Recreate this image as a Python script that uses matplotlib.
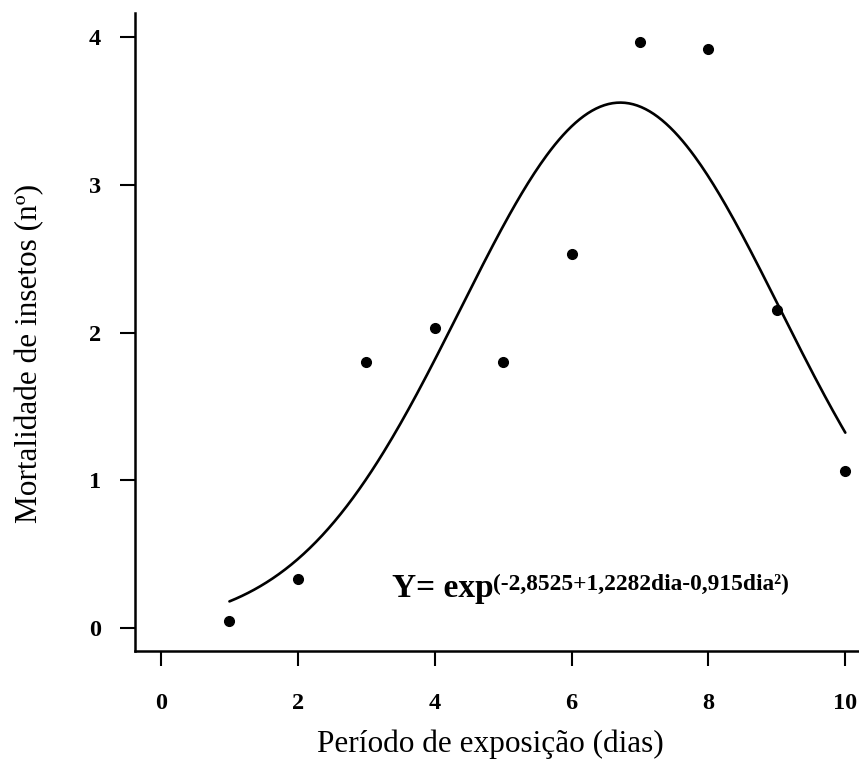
import numpy as np
import matplotlib
matplotlib.use("Agg")
import matplotlib.pyplot as plt

# Data
dias = [1, 2, 3, 4, 5, 6, 7, 8, 9, 10]
mortalidade = [0.05, 0.33, 1.80, 2.03, 1.80, 2.53, 3.97, 3.92, 2.15, 1.06]
# fitted model coefficients (curve shown in the chart)
b0, b1, b2 = -2.8525, 1.2282, -0.0915
x_ticks = [0, 2, 4, 6, 8, 10]
y_ticks = [0, 1, 2, 3, 4]

W, H = 859, 780
fig = plt.figure(figsize=(W / 100, H / 100), dpi=100)
left, right, top, bottom = 135, 859, 13, 651
ax = fig.add_axes([left / W, (H - bottom) / H, (right - left) / W, (bottom - top) / H])

serif = ["Liberation Serif", "DejaVu Serif"]

xf = np.linspace(dias[0], dias[-1], 300)
yf = np.exp(b0 + b1 * xf + b2 * xf ** 2)
ax.plot(xf, yf, color="black", lw=1.9, solid_capstyle="round")
ax.plot(dias, mortalidade, "o", color="black", ms=7)

ax.set_xlim(-0.38, 10.2)
ax.set_ylim(-0.156, 4.164)
ax.set_xticks(x_ticks)
ax.set_yticks(y_ticks)
ax.set_xticklabels([str(v) for v in x_ticks], fontfamily=serif, fontweight="bold", fontsize=17.5)
ax.set_yticklabels([str(v) for v in y_ticks], fontfamily=serif, fontweight="bold", fontsize=17.5)
ax.tick_params(axis="both", length=10.5, width=1.5, color="black")
ax.tick_params(axis="x", pad=20)
ax.tick_params(axis="y", pad=14)
for s in ["top", "right"]:
    ax.spines[s].set_visible(False)
for s in ["left", "bottom"]:
    ax.spines[s].set_linewidth(1.8)

fig.text(30 / W, 1 - 353 / H, "Mortalidade de insetos (nº)", rotation=90,
         ha="center", va="center", fontfamily=serif, fontsize=22.5)
fig.text(490 / W, 1 - 744 / H, "Período de exposição (dias)",
         ha="center", va="center", fontfamily=serif, fontsize=22.5)

ax.text(3.38, 0.21, "Y= exp", fontfamily=serif, fontweight="bold", fontsize=24,
        ha="left", va="baseline")
ax.text(4.85, 0.257, "(-2,8525+1,2282dia-0,915dia²)", fontfamily=serif,
        fontweight="bold", fontsize=16.8, ha="left", va="baseline")

fig.savefig("out.png", dpi=100)
